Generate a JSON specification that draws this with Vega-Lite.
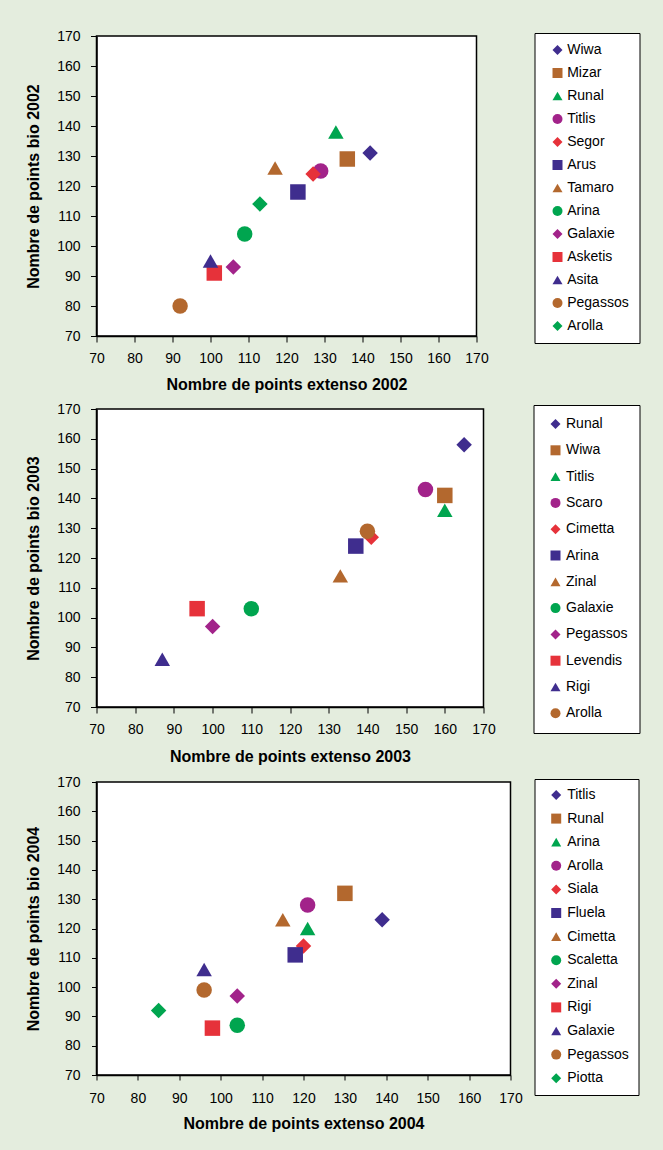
{
  "$schema": "https://vega.github.io/schema/vega-lite/v6.json",
  "background": "#E4EDDE",
  "padding": {"left": 23.5, "top": 28, "right": 25, "bottom": 20},
  "spacing": 8,
  "columns": 1,
  "bounds": "full",
  "config": {
    "font": "Liberation Sans",
    "view": {"stroke": "#000000", "strokeWidth": 1.5, "fill": "#FFFFFF"},
    "axis": {
      "grid": false,
      "domainColor": "#000000",
      "domainWidth": 1.5,
      "tickColor": "#000000",
      "tickWidth": 1,
      "tickSize": 6,
      "labelFontSize": 14,
      "labelColor": "#000000",
      "labelFlush": false,
      "labelOverlap": false,
      "titleFontSize": 16,
      "titleFontWeight": "bold",
      "titleColor": "#000000",
      "labelExpr": "datum.value % 10 === 0 ? datum.label : ''",
      "values": [70, 75, 80, 85, 90, 95, 100, 105, 110, 115, 120, 125, 130, 135, 140, 145, 150, 155, 160, 165, 170]
    },
    "legend": {
      "labelFontSize": 14,
      "labelColor": "#000000",
      "symbolSize": 100,
      "symbolStrokeWidth": 0,
      "fillColor": "#FFFFFF",
      "strokeColor": "#000000"
    }
  },
  "data": {
    "values": [
      {"p": "2002", "name": "Wiwa", "extenso": 142, "bio": 131},
      {"p": "2002", "name": "Mizar", "extenso": 136, "bio": 129},
      {"p": "2002", "name": "Runal", "extenso": 133, "bio": 138},
      {"p": "2002", "name": "Titlis", "extenso": 129, "bio": 125},
      {"p": "2002", "name": "Segor", "extenso": 127, "bio": 124},
      {"p": "2002", "name": "Arus", "extenso": 123, "bio": 118},
      {"p": "2002", "name": "Tamaro", "extenso": 117, "bio": 126},
      {"p": "2002", "name": "Arina", "extenso": 109, "bio": 104},
      {"p": "2002", "name": "Galaxie", "extenso": 106, "bio": 93},
      {"p": "2002", "name": "Asketis", "extenso": 101, "bio": 91},
      {"p": "2002", "name": "Asita", "extenso": 100, "bio": 95},
      {"p": "2002", "name": "Pegassos", "extenso": 92, "bio": 80},
      {"p": "2002", "name": "Arolla", "extenso": 113, "bio": 114},
      {"p": "2003", "name": "Runal", "extenso": 165, "bio": 158},
      {"p": "2003", "name": "Wiwa", "extenso": 160, "bio": 141},
      {"p": "2003", "name": "Titlis", "extenso": 160, "bio": 136},
      {"p": "2003", "name": "Scaro", "extenso": 155, "bio": 143},
      {"p": "2003", "name": "Cimetta", "extenso": 141, "bio": 127},
      {"p": "2003", "name": "Arina", "extenso": 137, "bio": 124},
      {"p": "2003", "name": "Zinal", "extenso": 133, "bio": 114},
      {"p": "2003", "name": "Galaxie", "extenso": 110, "bio": 103},
      {"p": "2003", "name": "Pegassos", "extenso": 100, "bio": 97},
      {"p": "2003", "name": "Levendis", "extenso": 96, "bio": 103},
      {"p": "2003", "name": "Rigi", "extenso": 87, "bio": 86},
      {"p": "2003", "name": "Arolla", "extenso": 140, "bio": 129},
      {"p": "2004", "name": "Titlis", "extenso": 139, "bio": 123},
      {"p": "2004", "name": "Runal", "extenso": 130, "bio": 132},
      {"p": "2004", "name": "Arina", "extenso": 121, "bio": 120},
      {"p": "2004", "name": "Arolla", "extenso": 121, "bio": 128},
      {"p": "2004", "name": "Siala", "extenso": 120, "bio": 114},
      {"p": "2004", "name": "Fluela", "extenso": 118, "bio": 111},
      {"p": "2004", "name": "Cimetta", "extenso": 115, "bio": 123},
      {"p": "2004", "name": "Scaletta", "extenso": 104, "bio": 87},
      {"p": "2004", "name": "Zinal", "extenso": 104, "bio": 97},
      {"p": "2004", "name": "Rigi", "extenso": 98, "bio": 86},
      {"p": "2004", "name": "Galaxie", "extenso": 96, "bio": 106},
      {"p": "2004", "name": "Pegassos", "extenso": 96, "bio": 99},
      {"p": "2004", "name": "Piotta", "extenso": 85, "bio": 92}
    ]
  },
  "resolve": {
    "scale": {"x": "independent", "y": "independent", "color": "independent", "shape": "independent"},
    "legend": {"color": "independent", "shape": "independent"},
    "axis": {"x": "independent", "y": "independent"}
  },
  "concat": [
    {
      "width": 380,
      "height": 300,
      "transform": [{"filter": "datum.p == '2002'"}],
      "mark": {"type": "point", "filled": true, "opacity": 1, "size": 240},
      "encoding": {
        "x": {"field": "extenso", "type": "quantitative", "scale": {"domain": [70, 170], "nice": false, "zero": false},
              "axis": {"title": "Nombre de points extenso 2002", "labelPadding": 9, "titlePadding": 11}},
        "y": {"field": "bio", "type": "quantitative", "scale": {"domain": [70, 170], "nice": false, "zero": false},
              "axis": {"title": "Nombre de points bio 2002", "labelPadding": 10.5, "titlePadding": 15.5}},
        "color": {"field": "name", "type": "nominal",
                  "scale": {"domain": ["Wiwa", "Mizar", "Runal", "Titlis", "Segor", "Arus", "Tamaro", "Arina", "Galaxie", "Asketis", "Asita", "Pegassos", "Arolla"],
                            "range": ["#3F2D8E", "#B3682E", "#00A54F", "#A2238A", "#E6323A", "#3F2D8E", "#B3682E", "#00A54F", "#A2238A", "#E6323A", "#3F2D8E", "#B3682E", "#00A54F"]},
                  "legend": {"title": null, "orient": "none", "legendX": 438, "legendY": -3, "padding": 10, "rowPadding": 9, "symbolOffset": 6, "labelOffset": 2.7,
                             "encode": {"legend": {"update": {"strokeWidth": {"value": 1.5}}}}}},
        "shape": {"field": "name", "type": "nominal",
                  "scale": {"domain": ["Wiwa", "Mizar", "Runal", "Titlis", "Segor", "Arus", "Tamaro", "Arina", "Galaxie", "Asketis", "Asita", "Pegassos", "Arolla"],
                            "range": ["diamond", "square", "triangle-up", "circle", "diamond", "square", "triangle-up", "circle", "diamond", "square", "triangle-up", "circle", "diamond"]},
                  "legend": {"title": null, "orient": "none", "legendX": 438, "legendY": -3, "padding": 10, "rowPadding": 9, "symbolOffset": 6, "labelOffset": 2.7,
                             "encode": {"legend": {"update": {"strokeWidth": {"value": 1.5}}}}}}
      }
    },
    {
      "width": 387,
      "height": 298,
      "transform": [{"filter": "datum.p == '2003'"}],
      "mark": {"type": "point", "filled": true, "opacity": 1, "size": 240},
      "encoding": {
        "x": {"field": "extenso", "type": "quantitative", "scale": {"domain": [70, 170], "nice": false, "zero": false},
              "axis": {"title": "Nombre de points extenso 2003", "labelPadding": 9.5, "titlePadding": 12}},
        "y": {"field": "bio", "type": "quantitative", "scale": {"domain": [70, 170], "nice": false, "zero": false},
              "axis": {"title": "Nombre de points bio 2003", "labelPadding": 10.5, "titlePadding": 15.5}},
        "color": {"field": "name", "type": "nominal",
                  "scale": {"domain": ["Runal", "Wiwa", "Titlis", "Scaro", "Cimetta", "Arina", "Zinal", "Galaxie", "Pegassos", "Levendis", "Rigi", "Arolla"],
                            "range": ["#3F2D8E", "#B3682E", "#00A54F", "#A2238A", "#E6323A", "#3F2D8E", "#B3682E", "#00A54F", "#A2238A", "#E6323A", "#3F2D8E", "#B3682E"]},
                  "legend": {"title": null, "orient": "none", "legendX": 437, "legendY": -4, "padding": 12, "rowPadding": 12.3, "symbolOffset": 3, "labelOffset": 3.5,
                             "encode": {"legend": {"update": {"strokeWidth": {"value": 1.5}}}}}},
        "shape": {"field": "name", "type": "nominal",
                  "scale": {"domain": ["Runal", "Wiwa", "Titlis", "Scaro", "Cimetta", "Arina", "Zinal", "Galaxie", "Pegassos", "Levendis", "Rigi", "Arolla"],
                            "range": ["diamond", "square", "triangle-up", "circle", "diamond", "square", "triangle-up", "circle", "diamond", "square", "triangle-up", "circle"]},
                  "legend": {"title": null, "orient": "none", "legendX": 437, "legendY": -4, "padding": 12, "rowPadding": 12.3, "symbolOffset": 3, "labelOffset": 3.5,
                             "encode": {"legend": {"update": {"strokeWidth": {"value": 1.5}}}}}}
      }
    },
    {
      "width": 414,
      "height": 293,
      "transform": [{"filter": "datum.p == '2004'"}],
      "mark": {"type": "point", "filled": true, "opacity": 1, "size": 240},
      "encoding": {
        "x": {"field": "extenso", "type": "quantitative", "scale": {"domain": [70, 170], "nice": false, "zero": false},
              "axis": {"title": "Nombre de points extenso 2004", "tickSize": 5, "labelPadding": 11, "titlePadding": 10.5}},
        "y": {"field": "bio", "type": "quantitative", "scale": {"domain": [70, 170], "nice": false, "zero": false},
              "axis": {"title": "Nombre de points bio 2004", "tickSize": 5, "labelPadding": 11.5, "titlePadding": 15.5}},
        "color": {"field": "name", "type": "nominal",
                  "scale": {"domain": ["Titlis", "Runal", "Arina", "Arolla", "Siala", "Fluela", "Cimetta", "Scaletta", "Zinal", "Rigi", "Galaxie", "Pegassos", "Piotta"],
                            "range": ["#3F2D8E", "#B3682E", "#00A54F", "#A2238A", "#E6323A", "#3F2D8E", "#B3682E", "#00A54F", "#A2238A", "#E6323A", "#3F2D8E", "#B3682E", "#00A54F"]},
                  "legend": {"title": null, "orient": "none", "legendX": 438, "legendY": -3, "padding": 9, "rowPadding": 9.6, "symbolOffset": 5.7, "labelOffset": 4,
                             "encode": {"legend": {"update": {"strokeWidth": {"value": 1.5}}}}}},
        "shape": {"field": "name", "type": "nominal",
                  "scale": {"domain": ["Titlis", "Runal", "Arina", "Arolla", "Siala", "Fluela", "Cimetta", "Scaletta", "Zinal", "Rigi", "Galaxie", "Pegassos", "Piotta"],
                            "range": ["diamond", "square", "triangle-up", "circle", "diamond", "square", "triangle-up", "circle", "diamond", "square", "triangle-up", "circle", "diamond"]},
                  "legend": {"title": null, "orient": "none", "legendX": 438, "legendY": -3, "padding": 9, "rowPadding": 9.6, "symbolOffset": 5.7, "labelOffset": 4,
                             "encode": {"legend": {"update": {"strokeWidth": {"value": 1.5}}}}}}
      }
    }
  ]
}
